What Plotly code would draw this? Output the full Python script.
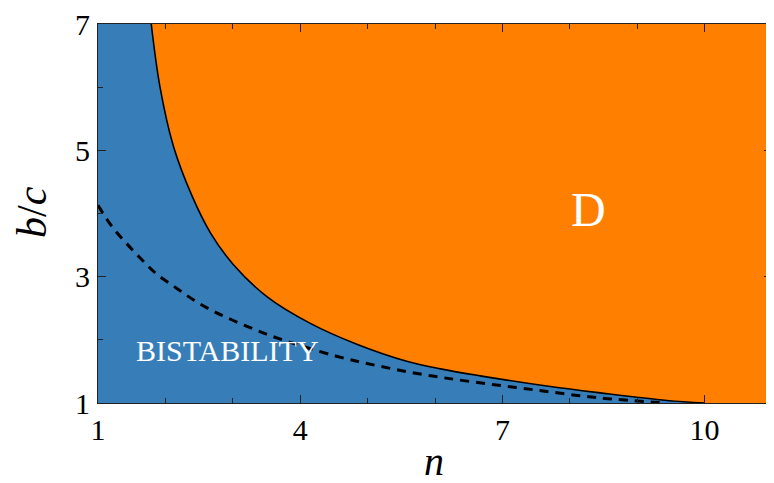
import plotly.graph_objects as go

# Boundary between bistability and D (solid curve)
n_solid = [1.79, 1.92, 2.12, 2.39, 2.67, 3.01, 3.51, 4.15, 4.84, 5.58, 6.08, 6.67,
           7.71, 8.45, 9.44, 10.0]
bc_solid = [7.0, 6.0, 5.06, 4.29, 3.69, 3.19, 2.68, 2.26, 1.93, 1.66, 1.54, 1.43,
            1.26, 1.16, 1.04, 1.0]

# Dashed curve
n_dash = [1.0, 1.21, 1.42, 1.64, 1.87, 2.15, 2.42, 2.70, 3.00, 3.31, 3.60, 4.54,
          5.19, 5.83, 6.52, 7.46, 8.45, 9.44]
bc_dash = [4.13, 3.79, 3.53, 3.28, 3.04, 2.83, 2.63, 2.46, 2.31, 2.17, 2.05, 1.74,
           1.58, 1.45, 1.34, 1.21, 1.08, 1.0]

x_range = [1, 11]
y_range = [1, 7]
x_ticks = [1, 4, 7, 10]
y_ticks = [1, 3, 5, 7]

BLUE = "#377eb8"
ORANGE = "#ff7f00"
SERIF = "Liberation Serif"

fig = go.Figure()

# Orange region (D): right of the solid curve
fig.add_trace(go.Scatter(
    x=n_solid + [x_range[1], x_range[1]],
    y=bc_solid + [y_range[0], y_range[1]],
    fill="toself", fillcolor=ORANGE, mode="none",
    line_shape="spline", hoverinfo="skip", showlegend=False,
))
fig.add_trace(go.Scatter(
    x=n_solid, y=bc_solid, mode="lines",
    line=dict(color="black", width=1.6, shape="spline"),
    showlegend=False,
))
fig.add_trace(go.Scatter(
    x=n_dash, y=bc_dash, mode="lines",
    line=dict(color="black", width=3, dash="9px,7px", shape="spline"),
    showlegend=False,
))

axis_common = dict(
    showgrid=False, zeroline=False, showline=True, linecolor="#222", linewidth=1.2,
    ticks="inside", ticklen=8, tickwidth=1, tickcolor="#222", mirror="allticks",
    tickfont=dict(family=SERIF, size=30, color="black"), automargin=False,
    ticklabeloverflow="allow",
)
fig.update_xaxes(range=x_range, tickvals=x_ticks, ticktext=[str(v) for v in x_ticks],
                 minor=dict(ticks="inside", ticklen=5, dtick=1, tick0=1, tickcolor="#222", showgrid=False),
                 ticklabelstandoff=0, **axis_common)
fig.update_yaxes(range=y_range, tickvals=y_ticks, ticktext=[str(v) for v in y_ticks],
                 minor=dict(ticks="inside", ticklen=5, dtick=1, tick0=1, tickcolor="#222", showgrid=False),
                 ticklabelstandoff=1, **axis_common)

# page body has an 8px margin, so the figure is placed 8px right/down
fig.update_layout(
    width=766, height=475,
    margin=dict(l=90, r=2, t=16, b=80),
    plot_bgcolor=BLUE, paper_bgcolor="white",
    annotations=[
        dict(x=8.27, y=4.07, xref="x", yref="y", text="D", showarrow=False,
             xanchor="center", yanchor="middle",
             font=dict(family=SERIF, size=48, color="white")),
        dict(x=2.92, y=1.83, xref="x", yref="y", text="BISTABILITY", showarrow=False,
             xanchor="center", yanchor="middle",
             font=dict(family=SERIF, size=30, color="white")),
        dict(x=0.4985, y=-0.155, xref="paper", yref="paper", text="<i>n</i>", showarrow=False,
             xanchor="center", yanchor="middle",
             font=dict(family=SERIF, size=40, color="black")),
        dict(x=-0.097, y=0.503, xref="paper", yref="paper", text="<i>b</i>/<i>c</i>",
             textangle=-90, showarrow=False, xanchor="center", yanchor="middle",
             font=dict(family=SERIF, size=42, color="black")),
    ],
)

fig.write_html("out.html")
